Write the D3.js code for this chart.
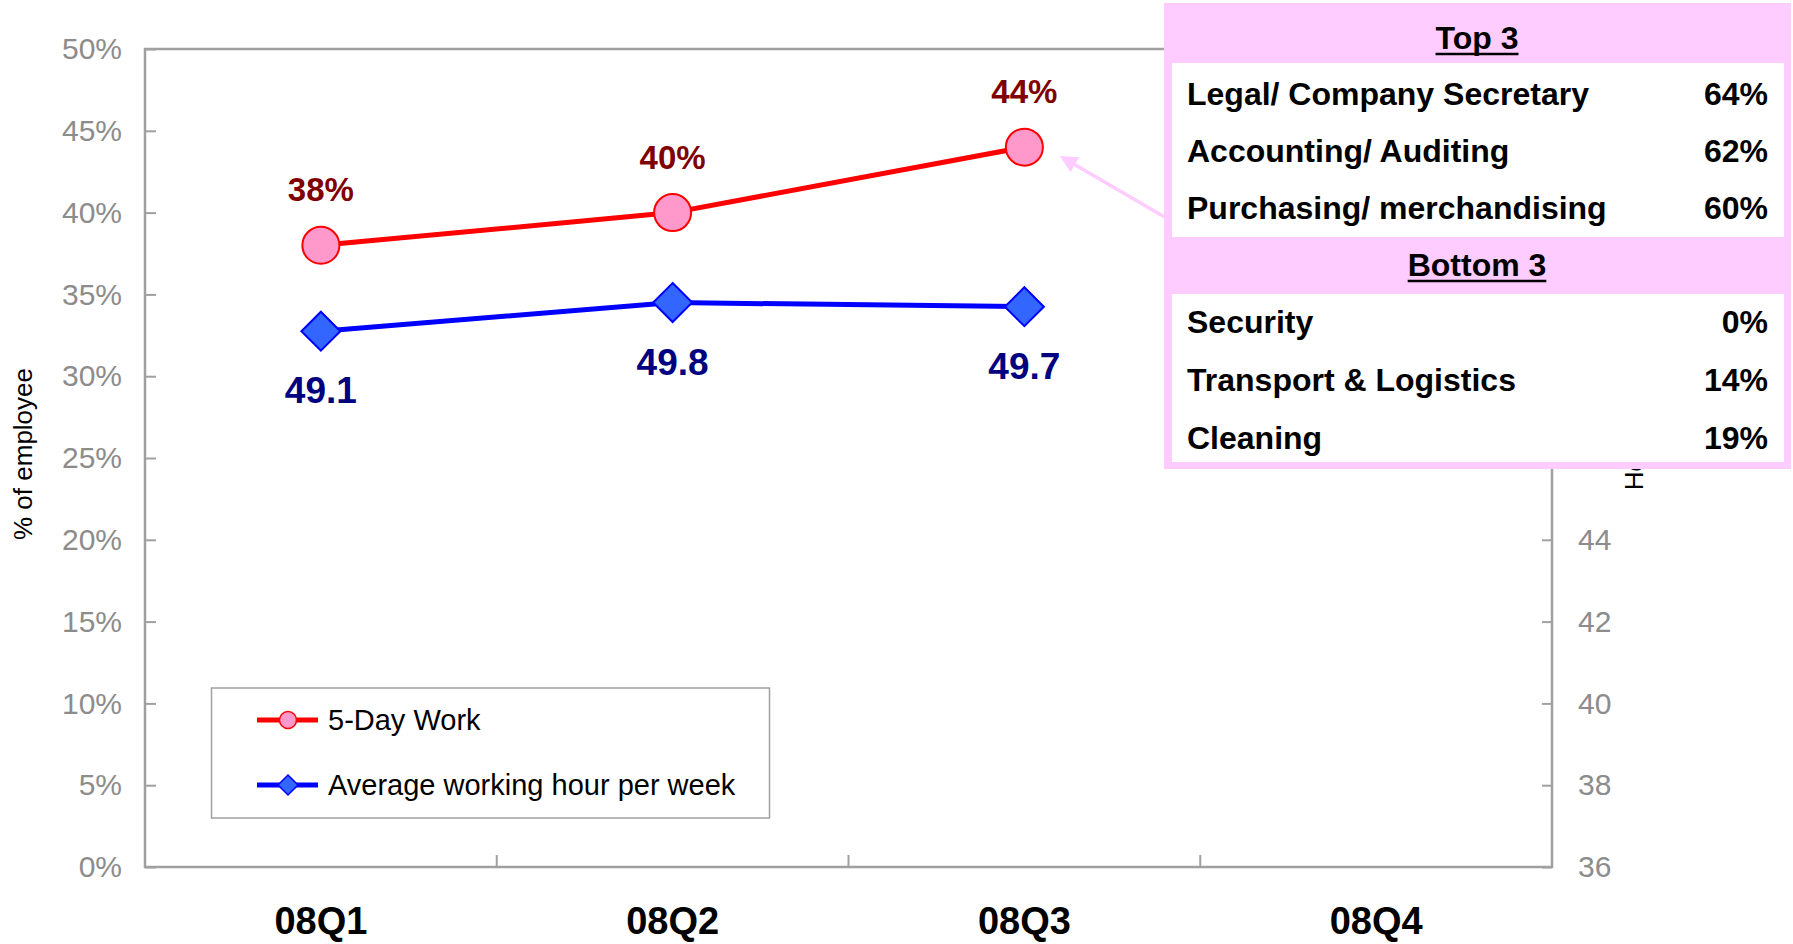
<!DOCTYPE html>
<html><head><meta charset="utf-8">
<script src="https://cdn.jsdelivr.net/npm/d3@7/dist/d3.min.js"></script>
<style>
body{margin:0;background:#fff;}
svg{display:block;font-family:Arial,"Liberation Sans",sans-serif;}
</style></head>
<body><svg id="c" width="1793" height="944"></svg>
<script>
const categories = ["08Q1","08Q2","08Q3","08Q4"];
const fiveDayWork = [0.38, 0.40, 0.44];
const avgHours = [49.1, 49.8, 49.7];
const leftTicks = [0,0.05,0.10,0.15,0.20,0.25,0.30,0.35,0.40,0.45,0.50];
const rightTicks = [36,38,40,42,44,46,48,50,52,54,56];
const top3Names = ["Legal/ Company Secretary","Accounting/ Auditing","Purchasing/ merchandising"];
const top3Values = ["64%","62%","60%"];
const bottom3Names = ["Security","Transport & Logistics","Cleaning"];
const bottom3Values = ["0%","14%","19%"];
const seriesNames = ["5-Day Work","Average working hour per week"];

const svg = d3.select("#c");
const L=145, R=1552, T=49, B=867;
const x = d3.scaleBand().domain(categories).range([L,R]).padding(0);
const yL = d3.scaleLinear().domain([0,0.5]).range([B,T]);
const yR = d3.scaleLinear().domain([36,56]).range([B,T]);
const axisGray="#a0a0a0", labelGray="#8c8c8c";

// frame
svg.append("rect").attr("x",L).attr("y",T).attr("width",R-L).attr("height",B-T)
  .attr("fill","none").attr("stroke",axisGray).attr("stroke-width",2.5);

// left axis
const gL = svg.append("g").attr("transform",`translate(${L},0)`)
  .call(d3.axisLeft(yL).tickValues(leftTicks).tickFormat(d3.format(".0%")).tickSizeInner(-11).tickSizeOuter(0).tickPadding(23));
gL.select(".domain").remove();
gL.selectAll("line").attr("stroke",axisGray).attr("stroke-width",2);
gL.selectAll("text").attr("fill",labelGray).style("font-size","30px").style("font-family","Arial,'Liberation Sans',sans-serif");

// right axis
const gR = svg.append("g").attr("transform",`translate(${R},0)`)
  .call(d3.axisRight(yR).tickValues(rightTicks).tickSizeInner(-10).tickSizeOuter(0).tickPadding(26));
gR.select(".domain").remove();
gR.selectAll("line").attr("stroke",axisGray).attr("stroke-width",2);
gR.selectAll("text").attr("fill",labelGray).style("font-size","30px").style("font-family","Arial,'Liberation Sans',sans-serif");

// bottom axis
const gB = svg.append("g").attr("transform",`translate(0,${B})`)
  .call(d3.axisBottom(x).tickSize(0).tickPadding(40));
gB.select(".domain").remove();
gB.selectAll("text").attr("fill","#000").style("font-size","38px").style("font-weight","bold").style("font-family","Arial,'Liberation Sans',sans-serif");
svg.append("g").selectAll("line").data(categories.slice(1)).join("line")
  .attr("x1",d=>x(d)).attr("x2",d=>x(d)).attr("y1",B).attr("y2",B-12)
  .attr("stroke",axisGray).attr("stroke-width",2);

// axis titles
svg.append("text").attr("transform","translate(32,454) rotate(-90)").attr("text-anchor","middle")
  .style("font-size","26px").attr("fill","#000").text("% of employee");
svg.append("text").attr("transform","translate(1643,462) rotate(-90)").attr("text-anchor","middle")
  .style("font-size","26px").attr("fill","#000").text("Hour");

const cx = (i)=>x(categories[i])+x.bandwidth()/2;

// red series
svg.append("path").datum(fiveDayWork)
  .attr("d", d3.line().x((d,i)=>cx(i)).y(d=>yL(d)))
  .attr("fill","none").attr("stroke","#ff0000").attr("stroke-width",5);
svg.append("g").selectAll("circle").data(fiveDayWork).join("circle")
  .attr("cx",(d,i)=>cx(i)).attr("cy",d=>yL(d)).attr("r",18.5)
  .attr("fill","#ff99cc").attr("stroke","#ff0000").attr("stroke-width",2);
svg.append("g").selectAll("text").data(fiveDayWork).join("text")
  .attr("x",(d,i)=>cx(i)).attr("y",d=>yL(d)-44).attr("text-anchor","middle")
  .style("font-size","33px").style("font-weight","bold").attr("fill","#800000")
  .text(d=>d3.format(".0%")(d));

// blue series
svg.append("path").datum(avgHours)
  .attr("d", d3.line().x((d,i)=>cx(i)).y(d=>yR(d)))
  .attr("fill","none").attr("stroke","#0000ff").attr("stroke-width",5);
const dia = (s)=>`M0,${-s}L${s},0L0,${s}L${-s},0Z`;
svg.append("g").selectAll("path").data(avgHours).join("path")
  .attr("transform",(d,i)=>`translate(${cx(i)},${yR(d)})`).attr("d",dia(19.5))
  .attr("fill","#3366ff").attr("stroke","#0000ff").attr("stroke-width",2);
svg.append("g").selectAll("text").data(avgHours).join("text")
  .attr("x",(d,i)=>cx(i)).attr("y",d=>yR(d)+72).attr("text-anchor","middle")
  .style("font-size","37px").style("font-weight","bold").attr("fill","#000080")
  .text(d=>d3.format(".1f")(d));

// legend
const lg = svg.append("g");
lg.append("rect").attr("x",211.5).attr("y",688).attr("width",558).attr("height",130)
  .attr("fill","#fff").attr("stroke",axisGray).attr("stroke-width",1.5);
const legY=[720,785];
lg.append("line").attr("x1",257).attr("x2",318).attr("y1",legY[0]).attr("y2",legY[0]).attr("stroke","#ff0000").attr("stroke-width",5);
lg.append("circle").attr("cx",288).attr("cy",legY[0]).attr("r",8.5).attr("fill","#ff99cc").attr("stroke","#ff0000").attr("stroke-width",1.5);
lg.append("line").attr("x1",257).attr("x2",318).attr("y1",legY[1]).attr("y2",legY[1]).attr("stroke","#0000ff").attr("stroke-width",5);
lg.append("path").attr("transform",`translate(288,${legY[1]})`).attr("d",dia(10)).attr("fill","#3366ff").attr("stroke","#0000ff").attr("stroke-width",1.5);
lg.selectAll("text").data(seriesNames).join("text")
  .attr("x",328).attr("y",(d,i)=>legY[i]+10).style("font-size","29px").attr("fill","#000").text(d=>d);

// arrow from table
svg.append("defs").append("marker").attr("id","ah").attr("viewBox","0 0 10 10")
  .attr("refX",2).attr("refY",5).attr("markerWidth",5).attr("markerHeight",5).attr("orient","auto")
  .append("path").attr("d","M0,0L10,5L0,10Z").attr("fill","#ffccff");
svg.append("line").attr("x1",1168).attr("y1",219).attr("x2",1072).attr("y2",163)
  .attr("stroke","#ffccff").attr("stroke-width",3.5).attr("marker-end","url(#ah)");

// table
const tb = svg.append("g");
const TX0=1164, TX1=1791;
tb.append("rect").attr("x",TX0).attr("y",3).attr("width",TX1-TX0).attr("height",466).attr("fill","#ffccff");
tb.append("rect").attr("x",1172).attr("y",63).attr("width",1784-1172).attr("height",174).attr("fill","#fff");
tb.append("rect").attr("x",1172).attr("y",294).attr("width",1784-1172).attr("height",168).attr("fill","#fff");
const hdr = [{t:"Top 3",y:38},{t:"Bottom 3",y:265}];
hdr.forEach(h=>{
  const t = tb.append("text").attr("x",1477).attr("y",h.y+11).attr("text-anchor","middle")
    .style("font-size","32px").style("font-weight","bold").attr("fill","#000").text(h.t);
  const w = t.node().getComputedTextLength();
  tb.append("line").attr("x1",1477-w/2).attr("x2",1477+w/2).attr("y1",h.y+16).attr("y2",h.y+16)
    .attr("stroke","#000").attr("stroke-width",2.5);
});
const rowsTop=[94,151,208], rowsBot=[322,380,438];
function rows(names, vals, ys){
  tb.append("g").selectAll("text").data(names).join("text")
    .attr("x",1187).attr("y",(d,i)=>ys[i]+11).style("font-size","32px").style("font-weight","bold").attr("fill","#000").text(d=>d);
  tb.append("g").selectAll("text").data(vals).join("text")
    .attr("x",1768).attr("y",(d,i)=>ys[i]+11).attr("text-anchor","end").style("font-size","32px").style("font-weight","bold").attr("fill","#000").text(d=>d);
}
rows(top3Names, top3Values, rowsTop);
rows(bottom3Names, bottom3Values, rowsBot);
</script></body></html>
